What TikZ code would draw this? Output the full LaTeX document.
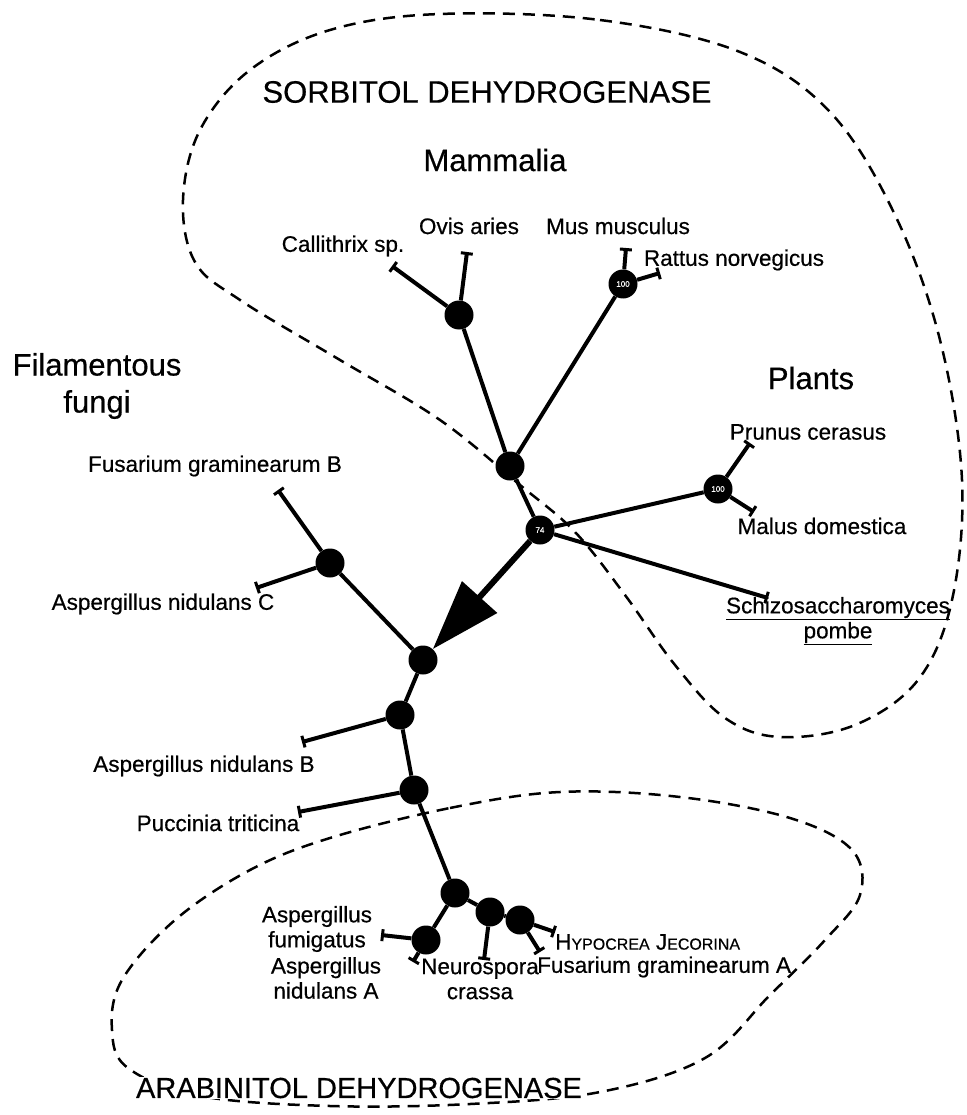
\documentclass[tikz,border=0pt]{standalone}
\usepackage{fontspec}
\setmainfont{Liberation Sans}[FakeBold=0.5]
\usetikzlibrary{arrows.meta}
\begin{document}
\begin{tikzpicture}[x=1pt,y=-1pt,
  edge/.style={line width=4pt},
  leaf/.style={line width=4pt,-{Bar[width=12pt,line width=3pt]}},
  jn/.style={circle,fill=black,minimum size=29pt,inner sep=0pt,font=\fontsize{8}{8}\selectfont,text=white},
  lbl/.style={font=\fontsize{22.5}{25}\selectfont,align=center,inner sep=0pt},
  head/.style={font=\fontsize{31}{37}\selectfont,align=center,inner sep=0pt},
  outline/.style={line width=2.5pt,dash pattern=on 12pt off 8pt}]
\useasboundingbox (0,0) rectangle (966,1115);
% outlines
\draw[outline] plot[smooth cycle,tension=0.6] coordinates {
 (440,14) (600,20) (740,52) (830,112) (895,215) (940,340) (962,480) (952,600) (918,680) (855,725) (780,737) (725,718) (675,665) (625,595) (575,532) (520,485) (440,420) (340,360) (240,300) (195,262) (183,200) (200,130) (250,70) (330,30)};
\draw[outline] plot[smooth cycle,tension=0.6] coordinates {
 (330,838) (450,808) (560,792) (680,797) (790,818) (852,850) (860,895) (825,940) (770,995) (705,1058) (600,1092) (470,1104) (330,1106) (200,1096) (128,1068) (112,1030) (122,980) (175,920) (250,870)};
% junctions
\node[jn] (nov) at (459,315) {};
\node[jn] (nmu) at (623,284) {100};
\node[jn] (nma) at (510,466) {};
\node[jn] (n74) at (540,530) {74};
\node[jn] (npl) at (718,489) {100};
\node[jn] (nfu) at (330,563) {};
\node[jn] (nta) at (423,660) {};
\node[jn] (nb) at (400,715) {};
\node[jn] (np) at (414,790) {};
\node[jn] (nar) at (455,893) {};
\node[jn] (nfm) at (426,940) {};
\node[jn] (nne) at (490,912) {};
\node[jn] (nhy) at (520,920) {};
% leaf ends
\coordinate (lca) at (392,266);
\coordinate (lov) at (467,252);
\coordinate (lmu) at (626,248);
\coordinate (lra) at (660,273);
\coordinate (lpr) at (750,443);
\coordinate (lma) at (754,512);
\coordinate (lsc) at (768,598);
\coordinate (lfb) at (278,490);
\coordinate (lac) at (256,588);
\coordinate (lab) at (302,742);
\coordinate (lpu) at (298,812);
\coordinate (lfm) at (381,935);
\coordinate (lna) at (413,962);
\coordinate (lne) at (484,960);
\coordinate (lhy) at (555,932);
\coordinate (lfa) at (540,952);
% edges
\draw[leaf] (nov) -- (lca);
\draw[leaf] (nov) -- (lov);
\draw[edge] (nov) -- (nma);
\draw[leaf] (nmu) -- (lmu);
\draw[leaf] (nmu) -- (lra);
\draw[edge] (nmu) -- (nma);
\draw[edge] (nma) -- (n74);
\draw[edge] (n74) -- (npl);
\draw[leaf] (npl) -- (lpr);
\draw[leaf] (npl) -- (lma);
\draw[leaf] (n74) -- (lsc);
\draw[line width=6pt,-{Triangle[length=70pt,width=46pt]}] (n74) -- (nta);
\draw[edge] (nta) -- (nfu);
\draw[leaf] (nfu) -- (lfb);
\draw[leaf] (nfu) -- (lac);
\draw[edge] (nta) -- (nb);
\draw[leaf] (nb) -- (lab);
\draw[edge] (nb) -- (np);
\draw[leaf] (np) -- (lpu);
\draw[edge] (np) -- (nar);
\draw[edge] (nar) -- (nfm);
\draw[leaf] (nfm) -- (lfm);
\draw[leaf] (nfm) -- (lna);
\draw[edge] (nar) -- (nne);
\draw[leaf] (nne) -- (lne);
\draw[edge] (nne) -- (nhy);
\draw[leaf] (nhy) -- (lhy);
\draw[leaf] (nhy) -- (lfa);
% labels
\node[head] (tsd) at (487,92) {SORBITOL DEHYDROGENASE};
\node[head] (tmam) at (495,160) {Mammalia};
\node[head] (tfil) at (97,386) {Filamentous\\fungi};
\node[head] (tpl) at (811,378) {Plants};
\node[head,font=\fontsize{29}{34}\selectfont,fill=white,inner sep=1pt] (tad) at (359,1088) {ARABINITOL DEHYDROGENASE};
\node[lbl] (tca) at (343,246) {Callithrix sp.};
\node[lbl] (tov) at (469,226) {Ovis aries};
\node[lbl] (tmu) at (618,226) {Mus musculus};
\node[lbl] (tra) at (734,260) {Rattus norvegicus};
\node[lbl] (tpr) at (808,432) {Prunus cerasus};
\node[lbl] (tma) at (822,526) {Malus domestica};
\node[lbl] (tsc) at (838,621) {\underline{Schizosaccharomyces}\\\underline{pombe}};
\node[lbl] (tfb) at (215,466) {Fusarium graminearum B};
\node[lbl] (tac) at (163,604) {Aspergillus nidulans C};
\node[lbl] (tab) at (204,766) {Aspergillus nidulans B};
\node[lbl] (tpu) at (218,823) {Puccinia triticina};
\node[lbl] (tfm) at (317,929) {Aspergillus\\fumigatus};
\node[lbl] (tna) at (326,978) {Aspergillus\\nidulans A};
\node[lbl] (tne) at (480,979) {Neurospora\\crassa};
\node[lbl,anchor=west] (thy) at (555,942) {H{\fontsize{16}{18}\selectfont YPOCREA} J{\fontsize{16}{18}\selectfont ECORINA}};
\node[lbl,anchor=west] (tfa) at (537,967) {Fusarium graminearum A};
\end{tikzpicture}
\end{document}
